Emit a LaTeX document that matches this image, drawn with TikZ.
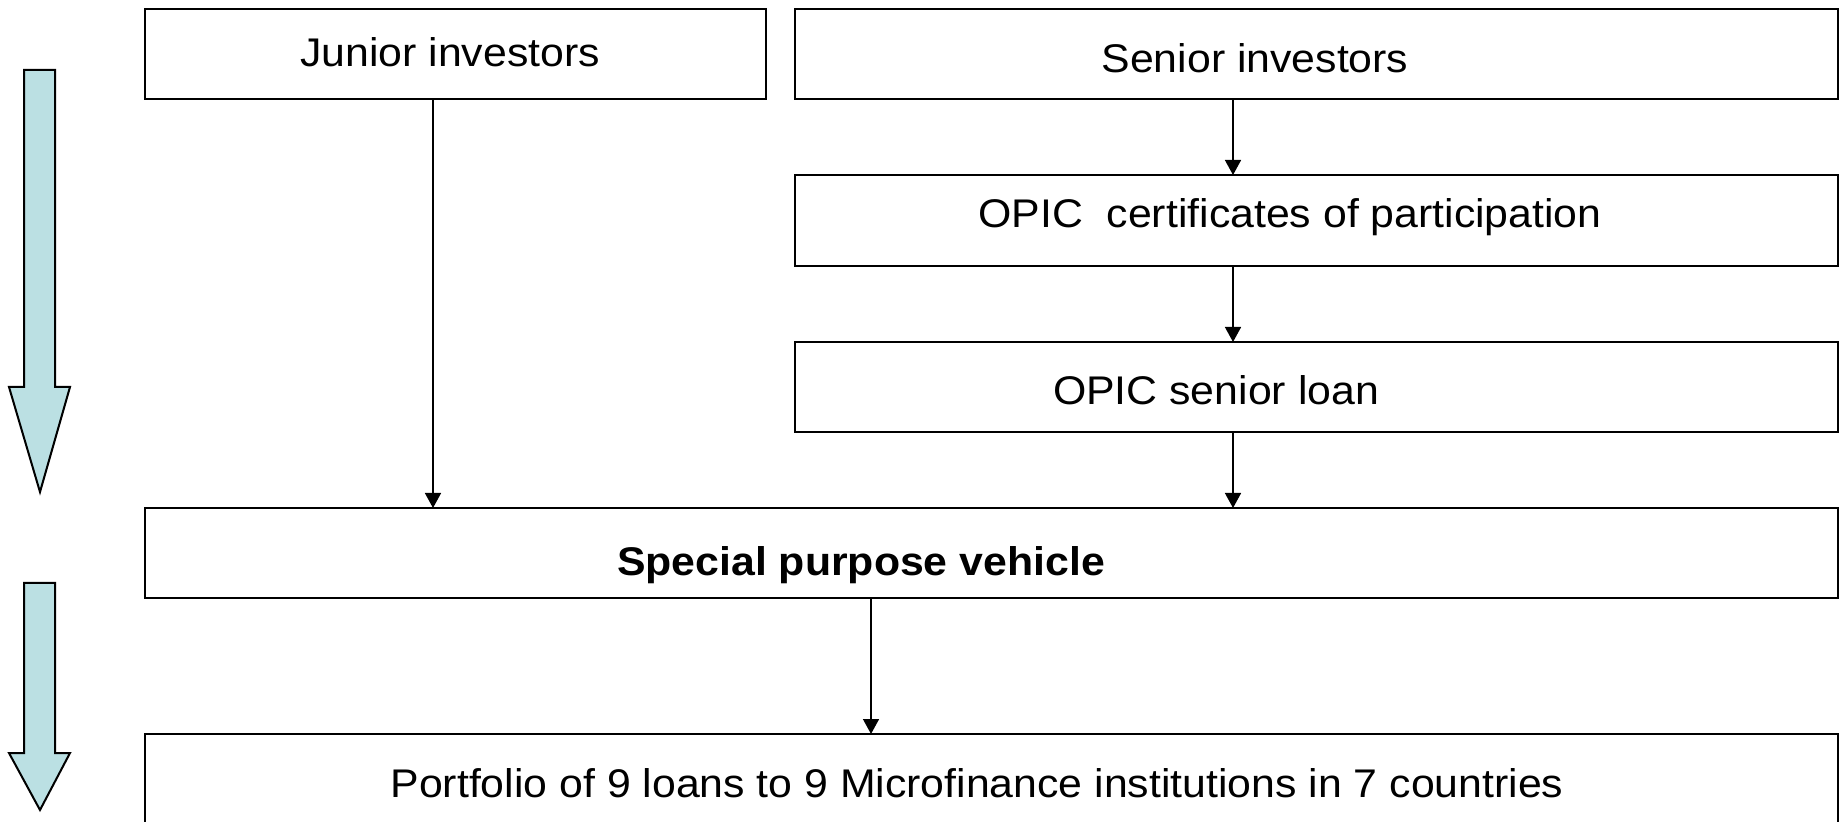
\documentclass[tikz,border=0pt]{standalone}
\usepackage{fontspec}
\setmainfont[FakeStretch=1.07]{Liberation Sans}
\usetikzlibrary{arrows.meta}
\definecolor{arrowfill}{HTML}{BBE0E3}
\tikzset{
  box/.style={draw=black, line width=1pt, rectangle, inner sep=0pt, outer sep=0pt, fill=white},
  lbl/.style={anchor=base, inner sep=0pt, font=\fontsize{20}{23}\selectfont},
  conn/.style={draw=black, line width=0.75pt, -{Triangle[length=7.5pt, width=8pt]}},
  bigarrow/.style={draw=black, line width=1pt, fill=arrowfill, line join=miter}
}
\begin{document}
\begin{tikzpicture}[x=0.5pt, y=-0.5pt]
\useasboundingbox (0,0) rectangle (1845,822);
\clip (0,0) rectangle (1845,822);
% boxes
\node[box, minimum width=310.5pt, minimum height=45pt] (junior) at (455.5,54) {};
\node[box, minimum width=521.5pt, minimum height=45pt] (senior) at (1316.5,54) {};
\node[box, minimum width=521.5pt, minimum height=45.5pt] (cert) at (1316.5,220.5) {};
\node[box, minimum width=521.5pt, minimum height=45pt] (loan) at (1316.5,387) {};
\node[box, minimum width=846.5pt, minimum height=45pt] (spv) at (991.5,553) {};
\node[box, minimum width=846.5pt, minimum height=83pt] (port) at (991.5,817) {};
% texts
\node[lbl] (tjunior) at (450,67) {Junior investors};
\node[lbl] (tsenior) at (1255,73) {Senior investors};
\node[lbl] (tcert) at (1290,228) {OPIC~~certificates of participation};
\node[lbl] (tloan) at (1216,405) {OPIC senior loan};
\node[lbl, font=\fontsize{20}{23}\selectfont\bfseries] (tspv) at (861,575) {Special purpose vehicle};
\node[lbl] (tport) at (977,797) {Portfolio of 9 loans to 9 Microfinance institutions in 7 countries};
% connectors
\draw[conn] (junior.south -| 433,0) -- (spv.north -| 433,0);
\draw[conn] (senior.south -| 1233,0) -- (cert.north -| 1233,0);
\draw[conn] (cert.south -| 1233,0) -- (loan.north -| 1233,0);
\draw[conn] (loan.south -| 1233,0) -- (spv.north -| 1233,0);
\draw[conn] (spv.south -| 871,0) -- (port.north -| 871,0);
% big arrows on the left
\draw[bigarrow] (24,70) -- (55,70) -- (55,387) -- (70,387) -- (40,492) -- (9,387) -- (24,387) -- cycle;
\draw[bigarrow] (24,583) -- (55,583) -- (55,753) -- (70,753) -- (40,810) -- (9,753) -- (24,753) -- cycle;
\end{tikzpicture}
\end{document}
